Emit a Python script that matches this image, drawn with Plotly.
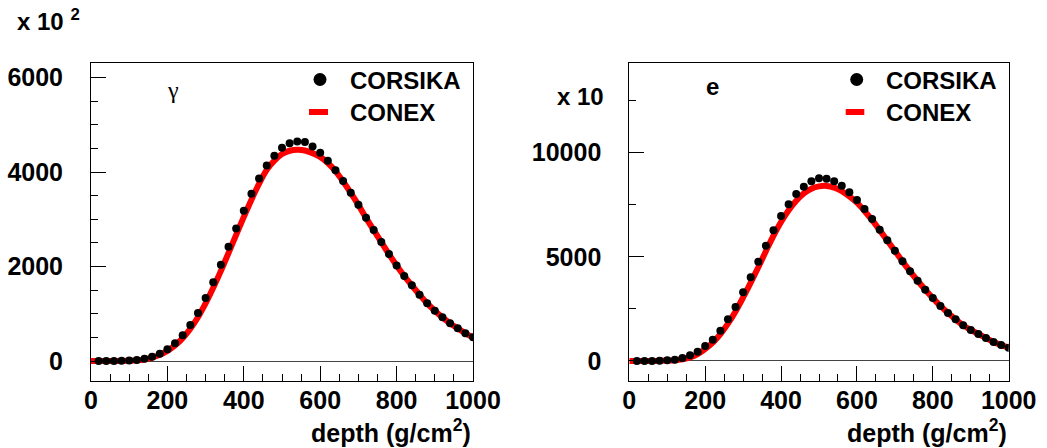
import plotly.graph_objects as go

W, H = 1047, 448

depth_dots = list(range(20, 1001, 20))
depth_line = list(range(0, 1001, 20))

gamma_corsika = [0, 0, 2, 4, 12, 21, 49, 92, 155, 247, 374, 543, 762, 1016, 1333, 1665, 2038,
                 2419, 2807, 3181, 3541, 3865, 4140, 4345, 4514, 4606, 4648, 4634, 4542, 4408,
                 4239, 4035, 3809, 3562, 3308, 3033, 2772, 2518, 2264, 2024, 1799, 1601, 1404,
                 1220, 1065, 924, 797, 691, 585, 501]
gamma_conex = [0, 0, 0, 1, 2, 6, 14, 32, 70, 130, 215, 330, 484, 685, 927, 1222, 1549, 1907,
               2286, 2671, 3050, 3415, 3752, 4044, 4240, 4380, 4450, 4470, 4455, 4400, 4320,
               4190, 4020, 3800, 3560, 3305, 3030, 2770, 2515, 2262, 2022, 1800, 1600, 1404,
               1220, 1065, 924, 797, 691, 585, 501]

e_corsika = [0, 0, 0, 10, 32, 64, 144, 272, 448, 720, 1024, 1456, 2000, 2591, 3295, 4015, 4766,
             5534, 6270, 6957, 7517, 8013, 8365, 8621, 8765, 8749, 8621, 8413, 8093, 7725, 7293,
             6813, 6301, 5789, 5294, 4782, 4302, 3854, 3422, 3023, 2639, 2303, 2000, 1711, 1487,
             1295, 1103, 912, 767, 640]
e_conex = [0, 0, 0, 3, 8, 18, 38, 85, 170, 330, 580, 880, 1290, 1790, 2380, 3050, 3760, 4500,
           5270, 6010, 6670, 7230, 7690, 8040, 8270, 8380, 8400, 8320, 8150, 7900, 7600, 7200,
           6760, 6280, 5780, 5280, 4780, 4300, 3850, 3420, 3020, 2640, 2300, 2000, 1710, 1490,
           1295, 1105, 915, 770, 640]

FONT = "Liberation Sans"
RED = "#ff0000"

fig = go.Figure()

panels = [
    ("x", "y", gamma_corsika, gamma_conex),
    ("x2", "y2", e_corsika, e_conex),
]
for xa, ya, dots, line in panels:
    fig.add_trace(go.Scatter(x=depth_line, y=line, mode="lines", xaxis=xa, yaxis=ya,
                             line=dict(color=RED, width=6, shape="spline"), showlegend=False))
    fig.add_trace(go.Scatter(x=depth_dots, y=dots, mode="markers", xaxis=xa, yaxis=ya,
                             marker=dict(color="black", size=8), showlegend=False))

def px_x(p):
    return p / W

def px_y(p):
    return (H - p) / H

xdoms = [[px_x(91), px_x(473)], [px_x(629.3), px_x(1008.7)]]
ydom = [px_y(381), px_y(63)]

tickfont = dict(family=FONT, size=25, color="black", weight="bold")

common_x = dict(range=[0, 1000], tick0=0, dtick=200, ticks="inside", ticklen=15, tickwidth=1,
                tickcolor="black", showline=True, linecolor="black", linewidth=1, mirror=True,
                showgrid=False, zeroline=False, tickfont=tickfont, ticklabelstandoff=-3,
                automargin=False,
                minor=dict(dtick=50, ticks="inside", ticklen=7, tickwidth=1, tickcolor="black",
                           showgrid=False))
common_y = dict(ticks="inside", ticklen=15, tickwidth=1, tickcolor="black", showline=True,
                linecolor="black", linewidth=1, mirror=True, showgrid=False, zeroline=True,
                zerolinecolor="#444444", zerolinewidth=1, tickfont=tickfont, tickformat="d",
                ticklabelstandoff=22, automargin=False)

fig.update_layout(
    template="none",
    width=W, height=H, margin=dict(l=0, r=0, t=0, b=0, autoexpand=False),
    paper_bgcolor="white", plot_bgcolor="white", showlegend=False,
    xaxis=dict(domain=xdoms[0], anchor="y", **common_x),
    yaxis=dict(domain=ydom, anchor="x", range=[-423, 6307], tick0=0, dtick=2000,
               minor=dict(dtick=500, ticks="inside", ticklen=7, tickwidth=1, tickcolor="black",
                          showgrid=False), **common_y),
    xaxis2=dict(domain=xdoms[1], anchor="y2", **common_x),
    yaxis2=dict(domain=ydom, anchor="x2", range=[-960, 14300], tick0=0, dtick=5000,
                minor=dict(dtick=2500, ticks="inside", ticklen=7, tickwidth=1, tickcolor="black",
                           showgrid=False), **common_y),
)

bold = dict(family=FONT, size=24, color="black", weight="bold")
title_font = dict(family=FONT, size=25, color="black", weight="bold")
ann = []
# axis titles
for right_px in (473, 1008.7):
    ann.append(dict(x=px_x(right_px), y=px_y(431), xref="paper", yref="paper",
                    xanchor="right", yanchor="middle", showarrow=False,
                    text="depth (g/cm<sup>2</sup>)", font=title_font))
# exponent labels
ann.append(dict(x=px_x(15), y=px_y(20), xref="paper", yref="paper", xanchor="left",
                yanchor="middle", showarrow=False, text="x 10 <sup>2</sup>", font=bold))
ann.append(dict(x=px_x(606), y=px_y(97), xref="paper", yref="paper", xanchor="right",
                yanchor="middle", showarrow=False, text="x 10", font=bold))
# panel labels
ann.append(dict(x=px_x(173), y=px_y(90), xref="paper", yref="paper", xanchor="center",
                yanchor="middle", showarrow=False, text="γ",
                font=dict(family="Liberation Serif", size=24, color="black")))
ann.append(dict(x=px_x(712), y=px_y(86), xref="paper", yref="paper", xanchor="center",
                yanchor="middle", showarrow=False, text="e", font=bold))

shapes = []
for dot_x, txt_x, dash_l, dash_r in ((320, 347.7, 309, 328), (856.7, 884.3, 845.7, 864.3)):
    ann.append(dict(x=px_x(txt_x), y=px_y(80), xref="paper", yref="paper", xanchor="left",
                    yanchor="middle", showarrow=False, text="CORSIKA", font=bold))
    ann.append(dict(x=px_x(txt_x), y=px_y(112), xref="paper", yref="paper", xanchor="left",
                    yanchor="middle", showarrow=False, text="CONEX", font=bold))
    shapes.append(dict(type="circle", xref="paper", yref="paper", xsizemode="pixel",
                       ysizemode="pixel", xanchor=px_x(dot_x), yanchor=px_y(79.5),
                       x0=-6.5, x1=6.5, y0=-6.5, y1=6.5, fillcolor="black",
                       line=dict(width=0)))
    shapes.append(dict(type="line", xref="paper", yref="paper", x0=px_x(dash_l), x1=px_x(dash_r),
                       y0=px_y(112), y1=px_y(112), line=dict(color=RED, width=6)))

fig.update_layout(annotations=ann, shapes=shapes)
fig.write_html("out.html")
